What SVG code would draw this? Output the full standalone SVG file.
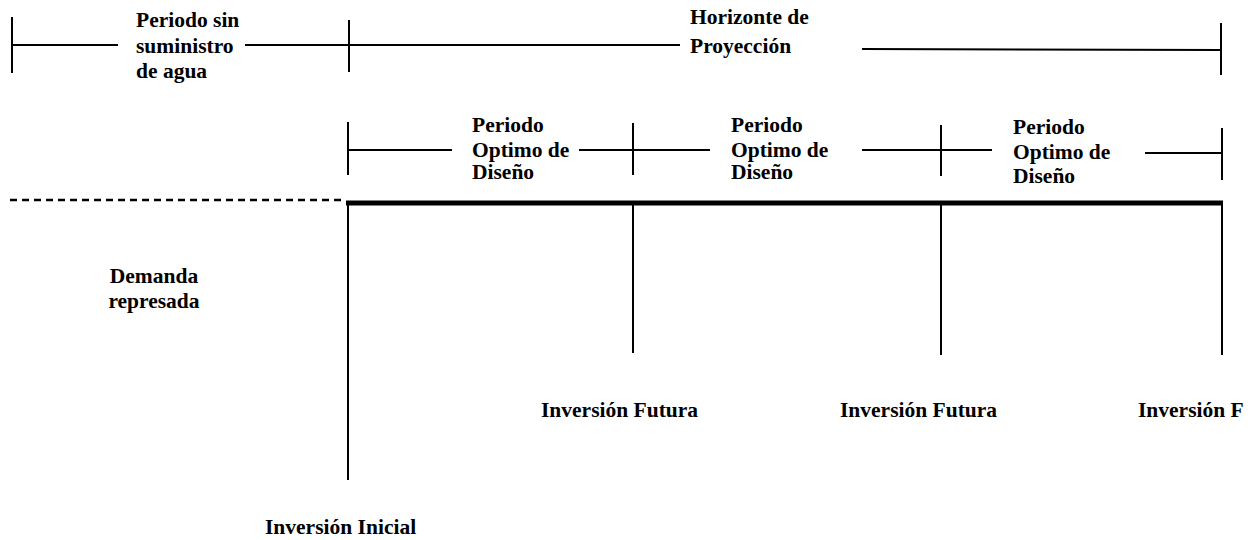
<svg xmlns="http://www.w3.org/2000/svg" width="1253" height="540" viewBox="0 0 1253 540">
<style>
text{font-family:'Liberation Serif','DejaVu Serif',serif;font-weight:bold;font-size:21.5px;fill:#000}
.l{stroke:#000;stroke-width:2;fill:none}
.thick{stroke:#000;stroke-width:5;fill:none}
.dash{stroke:#000;stroke-width:2.5;stroke-dasharray:7,5;fill:none}
</style>
<rect width="1253" height="540" fill="#fff"/>
<g id="connectors">
<line class="l" x1="12" y1="17" x2="12" y2="73"/>
<line class="l" x1="12" y1="45" x2="118" y2="45"/>
<line class="l" x1="245" y1="45" x2="680" y2="45"/>
<line class="l" x1="349" y1="20" x2="349" y2="72"/>
<line class="l" x1="862" y1="49" x2="1221" y2="50"/>
<line class="l" x1="1221" y1="23" x2="1221" y2="75"/>
<line class="l" x1="348" y1="122" x2="348" y2="175"/>
<line class="l" x1="348" y1="150" x2="452" y2="150"/>
<line class="l" x1="579" y1="150" x2="710" y2="150"/>
<line class="l" x1="633" y1="123" x2="633" y2="175"/>
<line class="l" x1="862" y1="150" x2="992" y2="150"/>
<line class="l" x1="941" y1="125" x2="941" y2="176"/>
<line class="l" x1="1145" y1="153" x2="1222" y2="153"/>
<line class="l" x1="1222" y1="128" x2="1222" y2="180"/>
<line class="dash" x1="10" y1="200" x2="346" y2="200"/>
<line class="thick" x1="346" y1="203" x2="1223" y2="203"/>
<line class="l" x1="348" y1="203" x2="348" y2="480"/>
<line class="l" x1="633" y1="203" x2="633" y2="353"/>
<line class="l" x1="941" y1="203" x2="941" y2="355"/>
<line class="l" x1="1222" y1="203" x2="1222" y2="355"/>
</g>
<g id="n-sin-suministro">
<text x="136" y="27">Periodo sin</text>
<text x="136" y="53">suministro</text>
<text x="136" y="78">de agua</text>
</g>
<g id="n-horizonte">
<text x="690" y="24">Horizonte de</text>
<text x="690" y="53">Proyección</text>
</g>
<g id="n-periodo1">
<text x="472" y="132">Periodo</text>
<text x="472" y="157">Optimo de</text>
<text x="472" y="179">Diseño</text>
</g>
<g id="n-periodo2">
<text x="731" y="132">Periodo</text>
<text x="731" y="157">Optimo de</text>
<text x="731" y="179">Diseño</text>
</g>
<g id="n-periodo3">
<text x="1013" y="134">Periodo</text>
<text x="1013" y="159">Optimo de</text>
<text x="1013" y="183">Diseño</text>
</g>
<g id="n-demanda">
<text x="154" y="283" text-anchor="middle">Demanda</text>
<text x="154" y="308" text-anchor="middle">represada</text>
</g>
<g id="n-inv-inicial"><text x="265" y="534">Inversión Inicial</text></g>
<g id="n-inv-futura1"><text x="541" y="417">Inversión Futura</text></g>
<g id="n-inv-futura2"><text x="840" y="417">Inversión Futura</text></g>
<g id="n-inv-f"><text x="1138" y="417">Inversión F</text></g>
</svg>
